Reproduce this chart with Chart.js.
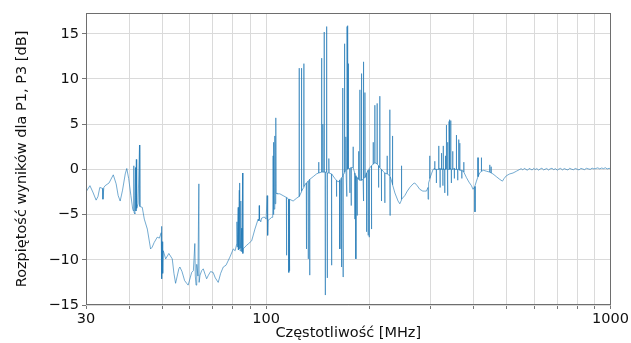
<!DOCTYPE html>
<html>
<head>
<meta charset="utf-8">
<script src="https://cdn.jsdelivr.net/npm/chart.js@4.4.1/dist/chart.umd.min.js"></script>
<style>
    html, body { margin: 0; padding: 0; background: #ffffff; }
</style>
</head>
<body>
<canvas id="spreadChart" width="631" height="343"></canvas>
<script>
// frequency [MHz] / spread [dB], split by band
const freqA = [30.0, 30.8, 31.4, 32.1, 32.5, 32.9, 33.5, 33.6, 33.8, 34.1,
    35.0, 36.0, 36.7, 37.2, 37.7, 38.3, 39.0, 39.4, 39.9, 40.5,
    41.0, 41.2, 41.3, 41.4, 41.6, 41.8, 41.9, 42.0, 42.1, 42.5,
    42.9, 43.0, 43.7, 44.3, 45.2, 46.2, 46.7, 47.3, 48.3, 49.0,
    49.6, 49.7, 49.8, 49.9, 50.1, 50.3, 51.1, 52.2, 53.4, 54.0,
    54.6, 55.2, 55.8];
const dbA = [-2.5, -1.8, -2.5, -3.4, -3.0, -2.0, -2.1, -3.3, -2.0, -1.8,
    -1.5, -0.6, -1.6, -2.9, -3.5, -2.3, -0.5, 0.1, -1.0, -2.9,
    -4.4, -4.6, 0.4, -4.8, -4.9, 0.2, -4.6, 1.1, -4.3, -3.8,
    2.7, -4.1, -4.2, -5.5, -6.6, -8.8, -8.6, -8.1, -7.5, -7.6,
    -7.0, -6.3, -12.1, -8.0, -11.5, -9.0, -9.9, -9.3, -9.9, -11.5,
    -12.6, -11.8, -11.0];

const freqB = [56.2, 57.0, 58.0, 58.8, 59.4, 60.2, 60.8, 61.5, 62.1, 62.3,
    62.6, 62.9, 63.4, 63.8, 63.9, 64.3, 65.0, 65.7, 66.5, 67.2,
    68.0, 69.0, 70.2, 71.2, 72.6, 73.8, 75.1, 76.5, 78.5, 80.3,
    81.3, 82.1, 82.3, 82.5, 83.0, 83.1, 83.6, 83.7, 83.9, 84.0,
    84.4, 84.5, 85.0, 85.1, 85.5, 85.6, 85.8, 86.7, 87.8, 89.0,
    90.8, 92.8, 94.8, 95.3, 95.5, 95.7, 96.5, 97.0, 98.3, 99.2,
    100.0, 100.7, 100.9, 101.2, 101.4, 102.5, 103.7, 104.5, 104.8, 105.0,
    105.3, 105.5, 106.0, 106.2, 106.7, 106.9, 107.5];
const dbB = [-10.8, -11.3, -12.3, -12.6, -12.8, -12.0, -11.4, -11.2, -8.2, -11.8,
    -12.8, -10.5, -11.8, -1.6, -12.5, -11.7, -11.2, -11.0, -11.6, -12.1,
    -11.7, -11.3, -11.4, -12.0, -12.5, -11.5, -10.8, -10.6, -9.7, -8.8,
    -9.0, -8.3, -5.8, -8.6, -4.2, -8.9, -2.3, -8.8, -1.5, -9.0,
    -3.5, -8.7, -6.5, -9.1, -0.4, -9.3, -8.8, -8.6, -8.4, -8.2,
    -7.9, -6.6, -5.5, -5.7, -4.0, -5.5, -5.8, -5.4, -5.3, -5.3,
    -5.5, -2.9, -5.4, -7.3, -5.6, -5.5, -5.3, -5.3, 1.5, -5.0,
    3.0, -4.4, 3.7, -3.8, 5.7, -2.6, -2.7];

const freqC = [109.6, 112.0, 114.5, 114.6, 114.8, 116.3, 116.4, 116.6, 116.9, 117.1,
    119.8, 122.5, 124.6, 124.7, 124.9, 126.6, 126.7, 126.8, 128.6, 128.7,
    128.8, 130.8, 130.9, 131.1, 132.4, 132.5, 132.7, 133.7, 133.8, 134.0,
    137.0, 140.1, 142.0, 142.1, 142.3, 144.8, 144.9, 145.1, 146.0, 146.1,
    146.3, 147.3, 147.4, 147.6, 148.4, 148.5, 148.7, 149.7, 149.8, 150.0,
    150.4, 150.5, 150.7, 152.0, 152.1, 152.3, 154.8, 154.9, 155.1, 158.3,
    160.0, 160.1, 160.3, 161.9, 163.6, 163.7, 163.9, 165.4, 165.5, 165.7,
    166.6, 166.7, 166.9, 167.2, 167.3, 167.5, 168.8, 168.9, 169.1, 170.3,
    170.4, 170.6, 171.4, 171.5, 171.7, 171.8, 172.0, 172.5, 172.6, 172.8,
    173.2, 173.3, 173.5, 174.9, 175.0, 175.2, 176.5, 176.6, 176.8, 178.8,
    178.9, 179.1, 180.8, 180.9, 181.1, 182.1, 182.2, 182.4, 183.7, 183.8,
    184.0, 185.5, 185.6, 185.8, 187.0, 187.1, 187.3, 189.1, 189.2, 189.4,
    191.2, 191.3, 191.5, 192.0, 192.1, 192.3, 193.5, 193.6, 193.8, 195.6,
    195.7, 195.9, 197.7, 197.8, 198.0, 199.1, 199.2, 199.4, 200.3, 202.2,
    202.3, 202.5, 204.5, 204.6, 204.8, 206.7, 206.8, 207.0, 208.2, 209.9,
    210.0, 210.2, 212.0, 212.1, 212.3, 213.7, 213.8, 214.0, 216.1, 216.2,
    216.4, 218.6, 221.0, 221.1, 221.3, 224.5, 224.6, 224.8, 228.5, 228.6,
    228.8, 229.0, 229.2, 232.7, 232.8, 233.0, 236.5, 241.6, 244.4, 247.1,
    247.2, 247.4, 252.7, 257.0, 261.3, 267.1, 270.1];
const dbC = [-2.7, -2.9, -3.1, -9.5, -3.1, -3.3, -11.4, -3.3, -11.2, -3.3,
    -3.5, -3.2, -3.0, 11.2, -3.0, -2.5, 11.2, -2.4, -2.0, 11.7,
    -1.9, -1.5, -8.8, -1.5, -1.3, -9.9, -1.3, -1.1, -11.7, -1.1,
    -0.8, -0.5, -0.4, 0.8, -0.4, -0.3, 12.3, -0.3, -0.3, 5.0,
    -0.3, -0.3, 15.2, -0.3, -0.3, -13.9, -0.3, -0.3, 15.8, -0.3,
    -0.4, -12.0, -0.4, -0.4, 1.2, -0.4, -0.5, -10.6, -0.5, -1.0,
    -1.2, -3.0, -1.2, -1.4, -1.2, -8.8, -1.1, -1.0, -10.8, -0.9,
    -0.8, 9.0, -0.8, -0.7, -11.9, -0.6, -0.4, 13.9, -0.3, -0.1,
    3.6, -0.1, 0.0, -3.0, 0.0, 15.8, 0.0, 0.1, 15.9, 0.1,
    0.1, 11.7, 0.1, 0.1, -2.6, 0.1, 0.2, -4.0, 0.2, 0.2,
    2.5, 0.2, -0.4, -5.5, -0.5, -0.7, -9.9, -0.8, -0.9, -5.1,
    -0.9, -1.1, 2.0, -1.1, -1.2, 8.8, -1.2, -1.2, 10.6, -1.2,
    -1.1, -3.5, -1.1, -1.0, 11.9, -1.0, -0.9, 8.5, -0.9, -0.4,
    -6.9, -0.4, -0.1, -7.3, -0.1, 0.0, -7.5, 0.1, 0.2, 0.4,
    -6.6, 0.4, 0.6, 3.0, 0.6, 0.7, 7.1, 0.7, 0.7, 0.6,
    7.3, 0.6, 0.4, -2.0, 0.4, 0.2, 8.1, 0.2, 0.0, -3.5,
    0.0, -0.2, -0.4, -3.7, -0.4, -0.5, 1.5, -0.5, -0.7, 6.6,
    -0.7, -5.1, -0.8, -1.6, 3.7, -1.7, -2.6, -3.5, -3.8, -3.4,
    0.4, -3.3, -2.9, -2.4, -2.0, -1.6, -1.5];

const freqD = [274.5, 279.3, 285.0, 288.8, 292.1, 295.1, 295.2, 295.4, 296.5, 296.6,
    296.8, 298.5, 298.6, 298.8, 302.0, 305.3, 308.7, 308.8, 309.0, 312.0,
    312.1, 312.3, 317.0, 317.1, 317.3, 319.9, 320.0, 320.2, 322.9, 323.0,
    323.2, 325.9, 326.0, 326.2, 326.7, 326.8, 327.0, 330.0, 330.1, 330.3,
    331.5, 331.6, 331.8, 333.7, 333.8, 334.0, 336.0, 336.1, 336.3, 336.9,
    337.0, 337.2, 339.6, 339.7, 339.9, 341.2, 341.3, 341.5, 343.5, 343.6,
    343.8, 344.9, 345.0, 345.2, 348.1, 348.2, 348.4, 351.9, 352.0, 352.2,
    356.8, 356.9, 357.1, 359.9, 360.0, 360.2, 362.3, 362.4, 362.6, 364.9,
    365.0, 365.2, 369.9, 370.0, 370.2, 373.0, 374.9, 375.0, 375.2, 381.6,
    388.0, 394.6, 398.8, 403.8, 404.0, 404.2, 408.0, 412.2, 412.3, 412.5,
    417.0, 421.7, 421.8, 422.0, 428.0, 436.2, 445.9, 446.0, 446.2, 450.0,
    450.1, 450.3, 455.7, 466.0, 476.7, 485.4, 491.0, 498.4, 509.6, 521.0,
    533.0, 545.0];
const dbD = [-1.8, -2.2, -2.4, -2.4, -2.4, -2.0, -3.3, -1.9, -1.6, -3.3,
    -1.5, -1.1, 1.5, -1.0, -0.5, 0.0, 0.1, 0.9, 0.0, 0.0,
    -1.5, 0.0, 0.0, 2.6, 0.0, 0.1, -2.0, 0.0, 0.0, 1.8,
    0.0, 0.0, -1.8, 0.0, 0.1, 2.6, 0.0, 0.0, -2.6, 0.0,
    0.1, 1.5, 0.0, 0.0, 4.9, 0.1, 0.0, -2.9, 0.0, 0.1,
    3.0, 0.0, 0.0, 5.3, 0.0, 0.1, 5.5, 0.0, 0.1, 5.4,
    0.0, 0.0, -1.5, 0.0, 0.0, 2.0, 0.0, 0.1, -1.0, 0.0,
    0.0, 3.8, 0.0, 0.0, -1.2, 0.0, 0.0, 3.3, 0.0, 0.0,
    2.9, -0.1, -0.1, -1.0, -0.1, -0.2, -0.3, 0.8, -0.3, -0.9,
    -1.4, -1.8, -2.2, -1.9, -4.7, -1.8, -1.3, -0.8, 1.3, -0.8,
    -0.4, -0.2, 1.3, -0.2, -0.1, -0.2, -0.3, 0.5, -0.3, -0.4,
    0.3, -0.4, -0.5, -0.8, -1.1, -1.3, -1.0, -0.7, -0.5, -0.4,
    -0.2, 0.0];

const freqE = [550, 556, 562, 568, 574, 580, 586, 592, 598, 604,
    611, 618, 625, 632, 639, 646, 653, 660, 668, 676,
    684, 692, 700, 708, 716, 725, 734, 743, 752, 761,
    770, 780, 790, 800, 810, 820, 830, 840, 851, 862,
    873, 884, 895, 906, 918, 930, 942, 954, 966, 978,
    990, 1000];
const dbE = [0.08, -0.06, 0.12, 0.00, -0.09, 0.10, 0.03, -0.07, 0.11, -0.02,
    0.09, -0.08, 0.05, 0.13, -0.05, 0.02, 0.10, -0.07, 0.06, 0.12,
    -0.03, 0.08, -0.08, 0.04, 0.11, -0.05, 0.09, 0.00, -0.06, 0.12,
    0.03, -0.04, 0.10, 0.02, -0.06, 0.11, 0.05, -0.03, 0.12, 0.06,
    0.00, 0.14, 0.05, 0.10, 0.17, 0.06, 0.15, 0.09, 0.18, 0.05,
    0.12, 0.08];

const xTicks = [30, 40, 50, 60, 70, 80, 90, 100, 200, 300, 400, 500, 600, 700, 800, 900, 1000];
const xTickLabels = [30, 100, 1000];
const yTicks = [-15, -10, -5, 0, 5, 10, 15];

const freqMHz = [].concat(freqA, freqB, freqC, freqD, freqE);
const spreadDb = [].concat(dbA, dbB, dbC, dbD, dbE);
if (freqMHz.length !== spreadDb.length) {
    throw new Error("length mismatch " + freqMHz.length + " / " + spreadDb.length);
}
const points = freqMHz.map(function (f, i) {
    return { x: f, y: spreadDb[i] };
});

const fontFamily = "'DejaVu Sans', sans-serif";

const frame = {
    id: "frame",
    afterDatasetsDraw: function (chart) {
        const a = chart.chartArea;
        const c = chart.ctx;
        c.save();
        c.strokeStyle = "#6e6e6e";
        c.lineWidth = 1;
        c.strokeRect(Math.round(a.left) + 0.5, Math.round(a.top) + 0.5,
            Math.round(a.right - a.left) - 1, Math.round(a.bottom - a.top) - 1);
        c.restore();
    },
};

const ctx = document.getElementById("spreadChart").getContext("2d");
const spreadChart = new Chart(ctx, {
    type: "line",
    data: {
        datasets: [
            {
                data: points,
                borderColor: "rgba(31, 119, 180, 0.78)",
                borderWidth: 0.8,
                pointRadius: 0,
                tension: 0,
                fill: false,
            },
        ],
    },
    options: {
        responsive: false,
        animation: false,
        events: [],
        layout: {
            padding: { top: 13, right: 20, left: 0, bottom: 0 },
        },
        plugins: {
            legend: { display: false },
            tooltip: { enabled: false },
        },
        scales: {
            x: {
                type: "logarithmic",
                min: 30,
                max: 1000,
                afterBuildTicks: function (scale) {
                    scale.ticks = xTicks.map(function (v) {
                        return { value: v, major: xTickLabels.includes(v) };
                    });
                },
                afterFit: function (scale) {
                    scale.height = 38;
                },
                ticks: {
                    autoSkip: false,
                    maxRotation: 0,
                    padding: 2,
                    color: "#111",
                    font: { family: fontFamily, size: 14.5 },
                    callback: function (value) {
                        return xTickLabels.includes(value) ? String(value) : "";
                    },
                },
                grid: {
                    color: "#dadada",
                    lineWidth: 1,
                    tickLength: 4,
                    tickColor: "#777",
                },
                border: { display: false },
                title: {
                    display: true,
                    text: "Częstotliwość [MHz]",
                    color: "#111",
                    font: { family: fontFamily, size: 14.5 },
                    padding: { top: 0, bottom: 1 },
                },
            },
            y: {
                type: "linear",
                min: -15,
                max: 17.3,
                afterBuildTicks: function (scale) {
                    scale.ticks = yTicks.map(function (v) {
                        return { value: v };
                    });
                },
                afterFit: function (scale) {
                    scale.width = 86;
                },
                ticks: {
                    padding: 3,
                    color: "#111",
                    font: { family: fontFamily, size: 14.5 },
                    callback: function (value) {
                        return value < 0 ? "\u2212" + Math.abs(value) : String(value);
                    },
                },
                grid: {
                    color: "#dadada",
                    lineWidth: 1,
                    tickLength: 4,
                    tickColor: "#777",
                },
                border: { display: false },
                title: {
                    display: true,
                    text: "Rozpiętość wyników dla P1, P3 [dB]",
                    color: "#111",
                    font: { family: fontFamily, size: 14.5 },
                    padding: { top: 14, bottom: 0 },
                },
            },
        },
    },
    plugins: [frame],
});
</script>
</body>
</html>
